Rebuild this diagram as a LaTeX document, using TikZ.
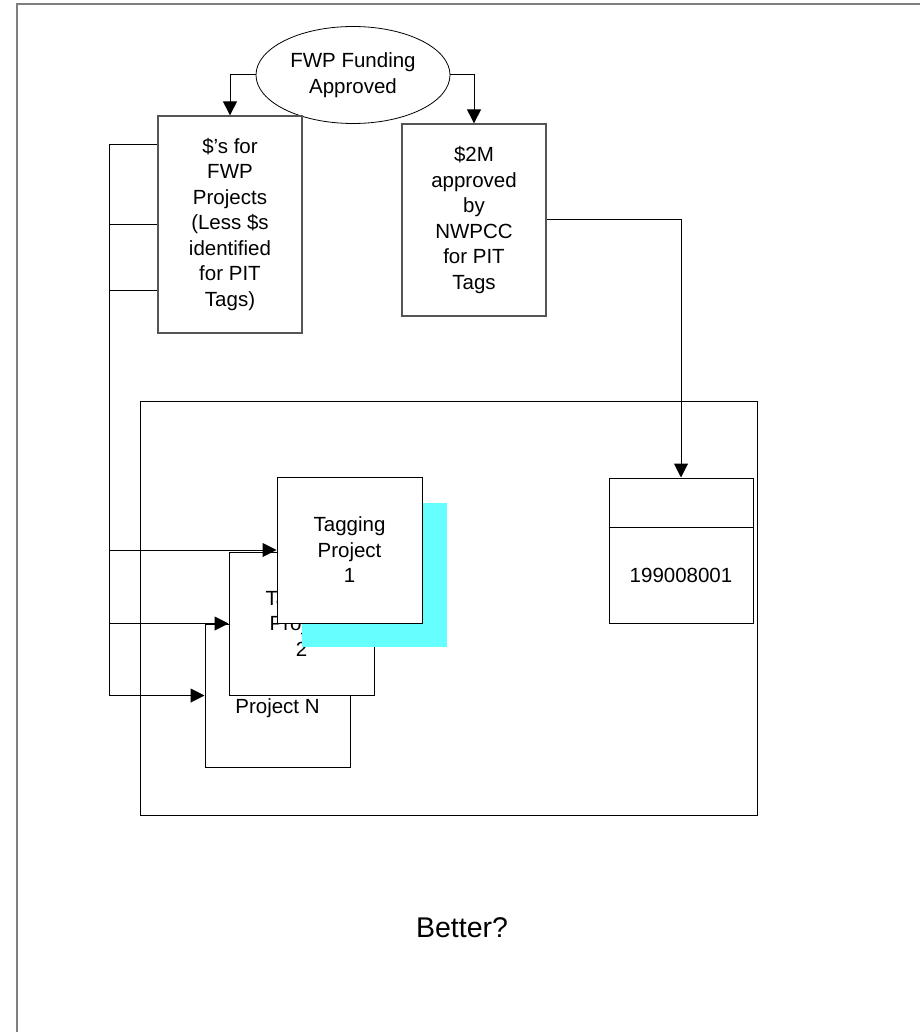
\documentclass[tikz,border=0pt]{standalone}
\usepackage{fontspec}
\setmainfont{Liberation Sans}
\usetikzlibrary{shapes.geometric,arrows.meta}
\definecolor{cyanShadow}{HTML}{66FFFF}
\definecolor{greyFrame}{HTML}{7F7F7F}
\definecolor{greyLine}{HTML}{555555}

\begin{document}
\begin{tikzpicture}[x=1pt,y=-1pt,every node/.style={align=center,font=\fontsize{20.5}{25.5}\selectfont},
    box/.style={draw,fill=white,inner sep=0pt,line width=1pt},
    tip/.style={-{Triangle[length=14pt,width=14pt]}}]
    \useasboundingbox (0,0) rectangle (920,1032);
    % frame
    \draw[greyFrame,line width=2pt] (17,1032) -- (17,4) -- (920,4);
    % funding
    \node[ellipse,draw,line width=0.8pt,minimum width=194pt,minimum height=97pt,inner sep=0pt] (fund) at (353,75)
      {FWP Funding\\Approved};
    \node[box,draw=greyLine,line width=1.3pt,minimum width=144pt,minimum height=217pt] (fwp) at (230,224.5)
      {\$’s for\\FWP\\Projects\\(Less \$s\\identified\\for PIT\\Tags)};
    \node[box,draw=greyLine,line width=1.3pt,minimum width=144pt,minimum height=192pt] (pit) at (474,220)
      {\$2M\\approved\\by\\NWPCC\\for PIT\\Tags};
    \draw[tip,line width=1pt] (fund.west) -| (fwp.north);
    \draw[tip,line width=1pt] (fund.east) -| (pit.north);
    % tagging area
    \node[draw,line width=1pt,minimum width=617pt,minimum height=414pt,inner sep=0pt] (area) at (448.5,608) {};
    \coordinate (bus) at (109,145);
    \draw[line width=1pt] (bus) -- (bus |- 0,695);
    \draw[line width=1pt] (fwp.west |- bus) -- (bus);
    \draw[line width=1pt] (fwp.west) -- (fwp.west -| bus);
    \draw[line width=1pt] (fwp.west |- 0,290) -- (bus |- 0,290);
    % projects
    \node[box,minimum width=145pt,minimum height=143pt] (projN) at (277.5,695.5) {Tagging\\Project N};
    \node[box,minimum width=145pt,minimum height=143pt] (proj2) at (301.5,623.5) {Tagging\\Project\\2};
    \fill[cyanShadow] (302,503) rectangle (447,647);
    \node[box,minimum width=145pt,minimum height=146pt] (proj1) at (349.5,550) {Tagging\\Project\\1};
    \draw[tip,line width=1pt] (bus |- proj1.west) -- (proj1.west);
    \draw[tip,line width=1pt] (bus |- proj2.west) -- (proj2.west);
    \draw[tip,line width=1pt] (bus |- projN.west) -- (projN.west);
    % pit tags project
    \node[box,minimum width=144pt,minimum height=145pt] (reg) at (681,550.5) {};
    \draw[line width=1pt] (reg.west |- 0,527) -- (reg.east |- 0,527);
    \node (regNum) at (681,575) {199008001};
    \draw[tip,line width=1pt] (pit.east) -| (reg.north);
    % caption
    \node[font=\fontsize{28.5}{34}\selectfont] (better) at (462,928) {Better?};
\end{tikzpicture}
\end{document}
